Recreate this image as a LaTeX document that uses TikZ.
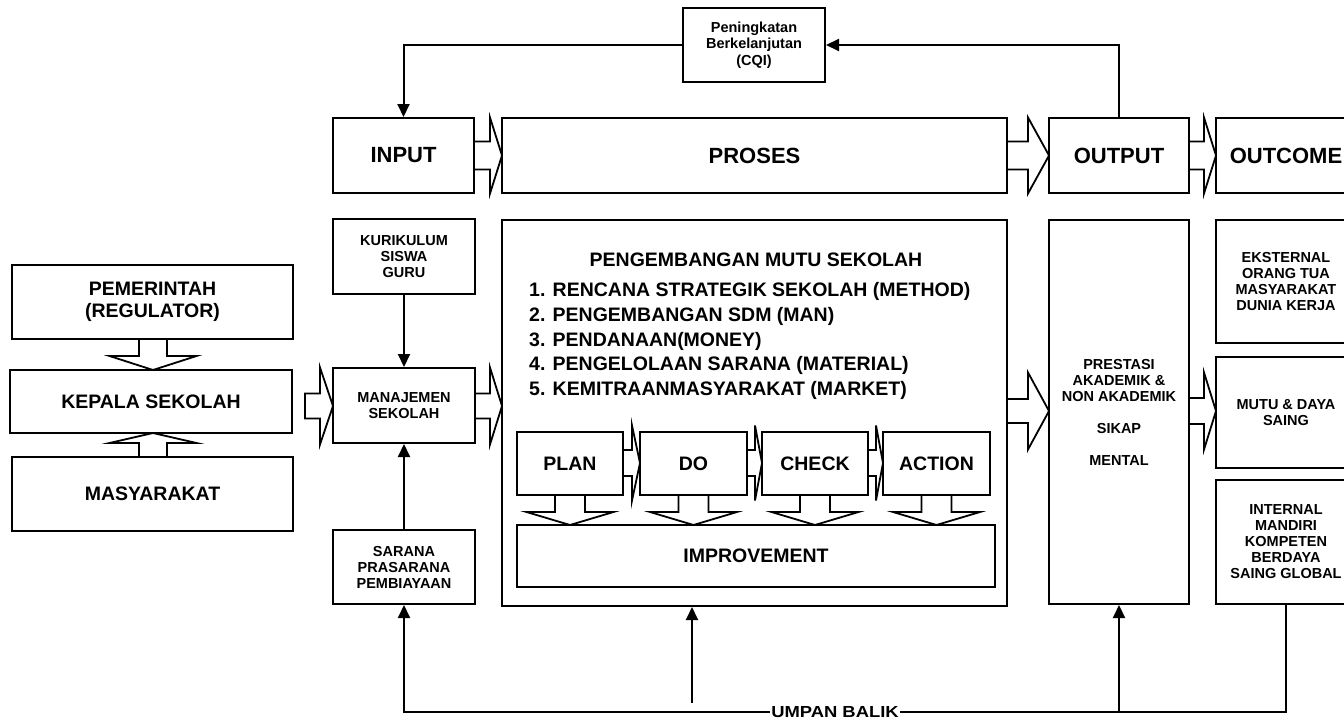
\documentclass[tikz,border=0pt]{standalone}
\usepackage{fontspec}
\setmainfont{Liberation Sans}
\usetikzlibrary{arrows.meta}
% horizontal block arrow: tail x, head base x, tip x, centre y, shaft half, head half
\newcommand\hba[6]{\filldraw[blk] (#1,{#4-#5}) -- (#2,{#4-#5}) -- (#2,{#4-#6}) -- (#3,#4) -- (#2,{#4+#6}) -- (#2,{#4+#5}) -- (#1,{#4+#5}) -- cycle;}
% vertical block arrow: tail y, head base y, tip y, centre x, shaft half, head half
\newcommand\vba[6]{\filldraw[blk] ({#4-#5},#1) -- ({#4-#5},#2) -- ({#4-#6},#2) -- (#4,#3) -- ({#4+#6},#2) -- ({#4+#5},#2) -- ({#4+#5},#1) -- cycle;}
\begin{document}
\begin{tikzpicture}[x=1pt,y=-1pt,
  box/.style={draw,line width=2pt,inner sep=0pt,align=center,fill=white},
  wh/.style 2 args={minimum width=#1pt,minimum height=#2pt},
  blk/.style={draw=black,fill=white,line width=1.8pt,line join=miter},
  conn/.style={line width=2pt},
  arr/.style={conn,-{Triangle[length=13pt,width=12pt]}},
  hdr/.style={font=\bfseries\fontsize{22}{26}\selectfont},
  big/.style={font=\bfseries\fontsize{19.5}{22}\selectfont},
  sm/.style={font=\bfseries\fontsize{14.5}{16}\selectfont},
  txt/.style={inner sep=0pt,align=center}
]
\useasboundingbox (0,0) rectangle (1344,720);
\clip (0,0) rectangle (1344,720);

% top feedback box
\node[box,wh={142}{74},font=\bfseries\fontsize{14.5}{16.5}\selectfont] (cqi) at (754,45) {Peningkatan\\Berkelanjutan\\(CQI)};

% header row
\node[box,hdr,wh={141}{75}] (input) at (403.5,155.5) {INPUT};
\node[box,hdr,wh={505}{75}] (proses) at (754.5,155.5) {PROSES};
\node[box,hdr,wh={140}{75}] (output) at (1119,155.5) {OUTPUT};
\node[box,hdr,wh={140}{75}] (outcome) at (1286,155.5) {OUTCOME};

% left stakeholders
\node[box,big,wh={281}{74}] (pem) at (152.5,302) {PEMERINTAH\\(REGULATOR)};
\node[box,big,wh={282}{63}] (kep) at (151,401.5) {KEPALA SEKOLAH};
\node[box,big,wh={281}{74}] (mas) at (152.5,494) {MASYARAKAT};

% input column
\node[box,sm,wh={142}{75}] (kur) at (404,256.5) {KURIKULUM\\SISWA\\GURU};
\node[box,sm,wh={142}{75}] (man) at (404,405.5) {MANAJEMEN\\SEKOLAH};
\node[box,sm,wh={142}{74}] (sar) at (404,567) {SARANA\\PRASARANA\\PEMBIAYAAN};

% process
\node[box,wh={505}{386}] (peng) at (754.5,413) {};
\node[txt,big] (pengt) at (756,260) {PENGEMBANGAN MUTU SEKOLAH};
\node[txt,anchor=west,align=left,font=\bfseries\fontsize{19.5}{24.7}\selectfont] (list) at (529,341) {1. RENCANA STRATEGIK SEKOLAH (METHOD)\\2. PENGEMBANGAN SDM (MAN)\\3. PENDANAAN(MONEY)\\4. PENGELOLAAN SARANA (MATERIAL)\\5. KEMITRAANMASYARAKAT (MARKET)};
\node[box,big,wh={106}{63}] (plan) at (570,463.5) {PLAN};
\node[box,big,wh={107}{63}] (do) at (693.5,463.5) {DO};
\node[box,big,wh={106}{63}] (check) at (815,463.5) {CHECK};
\node[box,big,wh={107}{63}] (action) at (936.5,463.5) {ACTION};
\node[box,big,wh={478}{62}] (impr) at (756,556) {IMPROVEMENT};

% output
\node[box,sm,wh={140}{384}] (outbig) at (1119,412) {PRESTASI\\AKADEMIK \&\\NON AKADEMIK\\[16pt]SIKAP\\[16pt]MENTAL};

% outcome
\node[box,sm,wh={140}{123}] (eks) at (1286,281.5) {EKSTERNAL\\ORANG TUA\\MASYARAKAT\\DUNIA KERJA};
\node[box,sm,wh={140}{111}] (mutu) at (1286,412.5) {MUTU \& DAYA\\SAING};
\node[box,sm,wh={140}{124}] (intl) at (1286,542) {INTERNAL\\MANDIRI\\KOMPETEN\\BERDAYA\\SAING GLOBAL};

% block arrows - header row
\hba{474}{490}{502}{155.5}{14}{38}
\hba{1007}{1028}{1049}{155.5}{14}{38}
\hba{1189}{1204}{1216}{155.5}{14}{38}
% block arrows - second row
\hba{305}{320}{333}{406}{12.5}{38.5}
\hba{475}{490}{502}{406}{12.5}{38.5}
\hba{1007}{1028}{1049}{411}{12}{38.5}
\hba{1189}{1204}{1216}{411}{13}{38.5}
% left vertical block arrows
\vba{339}{356}{370}{153}{14}{43.5}
\vba{457}{443}{433}{153}{14}{43.5}
% PDCA arrows
\hba{623}{632}{640}{463}{13}{37.5}
\hba{747}{755}{762}{463}{13}{37.5}
\hba{868}{876}{883}{463}{13}{37.5}
\vba{495}{512}{525}{570}{15}{43.5}
\vba{495}{512}{525}{693.5}{15}{43.5}
\vba{495}{512}{525}{815}{15}{43.5}
\vba{495}{512}{525}{936.5}{15}{43.5}

% connectors
\draw[arr] (cqi.west) -| (input.north);
\draw[arr] (output.north) |- (cqi.east);
\draw[arr] (kur.south) -- (man.north);
\draw[arr] (sar.north) -- (man.south);

\node[fill=white,inner sep=1pt,font=\bfseries\fontsize{16}{16}\selectfont] (ub) at (835,712) {\scalebox{1.15}[1]{UMPAN BALIK}};
\draw[arr] (ub.west) -| (sar.south);
\draw[conn] (intl.south) |- (ub.east);
\coordinate (fbm) at (692,703);
\draw[arr] (fbm) -- (fbm |- peng.south);
\draw[arr] (ub.east -| outbig.south) -- (outbig.south);
\end{tikzpicture}
\end{document}
